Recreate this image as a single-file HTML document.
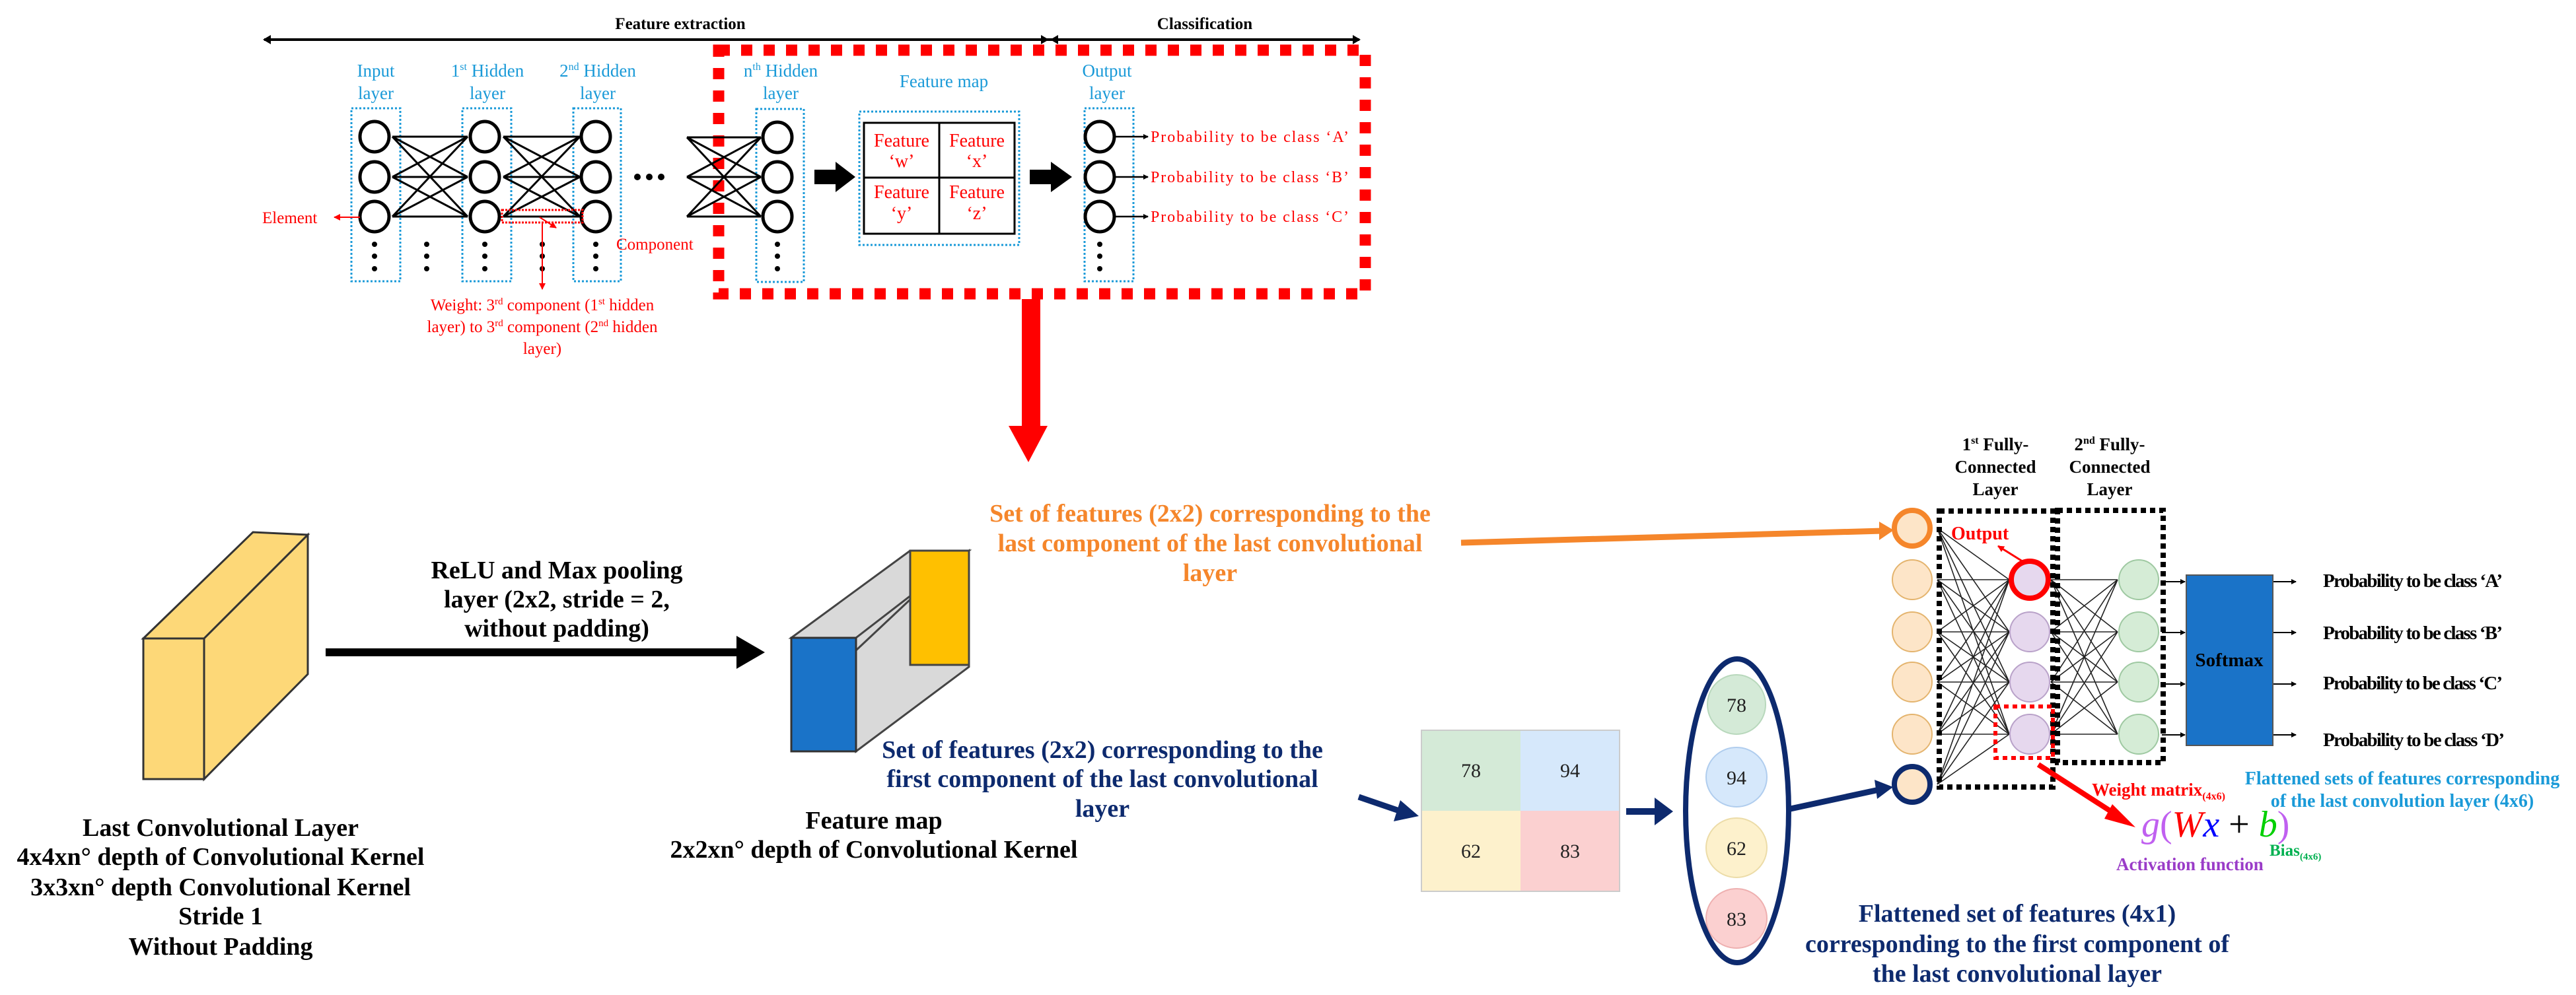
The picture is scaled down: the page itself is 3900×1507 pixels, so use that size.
<!DOCTYPE html>
<html><head><meta charset="utf-8"><style>
html,body{margin:0;padding:0;background:#fff;}
svg{display:block;}
text{font-family:"Liberation Serif",serif;}
</style></head><body>
<svg width="3900" height="1507" viewBox="0 0 3900 1507" xmlns="http://www.w3.org/2000/svg">
<defs>
<marker id="ab" markerWidth="8" markerHeight="8" refX="7" refY="4" orient="auto" markerUnits="userSpaceOnUse"><path d="M0,0 L8,4 L0,8z" fill="#000"/></marker>
<marker id="ar" markerWidth="10" markerHeight="10" refX="9" refY="5" orient="auto" markerUnits="userSpaceOnUse"><path d="M0,0 L10,5 L0,10z" fill="#f00"/></marker>
<marker id="abig" markerWidth="14" markerHeight="14" refX="12" refY="7" orient="auto" markerUnits="userSpaceOnUse"><path d="M0,0 L14,7 L0,14z" fill="#000"/></marker>
</defs>

<!-- top arrows -->
<line x1="400" y1="60" x2="2058" y2="60" stroke="#000" stroke-width="4"/>
<path d="M398,60 l12,-7 v14z M1588,60 l-12,-7 v14z M1590,60 l12,-7 v14z M2060,60 l-12,-7 v14z" fill="#000"/>
<text x="1030" y="44" font-size="25" font-weight="bold" text-anchor="middle">Feature extraction</text>
<text x="1824" y="44" font-size="25" font-weight="bold" text-anchor="middle">Classification</text>

<!-- red dashed box -->
<rect x="1088" y="76" width="979" height="369" fill="none" stroke="#f00" stroke-width="17" stroke-dasharray="17 17"/>
<!-- red down arrow -->
<rect x="1547" y="453" width="28" height="200" fill="#f00"/>
<path d="M1527,645 L1586,645 L1557,700z" fill="#f00"/>

<!-- layer labels -->
<g fill="#1a9ad8" font-size="27" text-anchor="middle">
<text x="569" y="116">Input</text><text x="569" y="150">layer</text>
<text x="738" y="116">1<tspan font-size="16" dy="-10">st</tspan><tspan dy="10"> Hidden</tspan></text><text x="738" y="150">layer</text>
<text x="905" y="116">2<tspan font-size="16" dy="-10">nd</tspan><tspan dy="10"> Hidden</tspan></text><text x="905" y="150">layer</text>
<text x="1182" y="116">n<tspan font-size="16" dy="-10">th</tspan><tspan dy="10"> Hidden</tspan></text><text x="1182" y="150">layer</text>
<text x="1429" y="132">Feature map</text>
<text x="1676" y="116">Output</text><text x="1676" y="150">layer</text>
</g>
<!-- blue dotted boxes -->
<g fill="none" stroke="#1a9ad8" stroke-width="3" stroke-dasharray="3 3">
<rect x="532" y="164" width="74" height="262"/>
<rect x="700" y="164" width="74" height="262"/>
<rect x="868" y="164" width="72" height="262"/>
<rect x="1145" y="165" width="72" height="262"/>
<rect x="1301" y="169" width="242" height="202"/>
<rect x="1642" y="164" width="74" height="262"/>
</g>

<!-- connections -->
<g stroke="#000" stroke-width="3" fill="none">
<path d="M594,207 L708,207 M594,207 L708,268 M594,207 L708,328 M594,268 L708,207 M594,268 L708,268 M594,268 L708,328 M594,328 L708,207 M594,328 L708,268 M594,328 L708,328"/>
<path d="M762,207 L878,207 M762,207 L878,268 M762,207 L878,328 M762,268 L878,207 M762,268 L878,268 M762,268 L878,328 M762,328 L878,207 M762,328 L878,268 M762,328 L878,328"/>
<path d="M1040,208 L1152,208 M1040,208 L1152,268 M1040,208 L1152,328 M1040,268 L1152,208 M1040,268 L1152,268 M1040,268 L1152,328 M1040,328 L1152,208 M1040,328 L1152,268 M1040,328 L1152,328"/>
</g>
<!-- circles -->
<g fill="#fff" stroke="#000" stroke-width="5">
<ellipse cx="567" cy="207" rx="22" ry="23"/><ellipse cx="567" cy="268" rx="22" ry="23"/><ellipse cx="567" cy="328" rx="22" ry="23"/>
<ellipse cx="734" cy="207" rx="22" ry="23"/><ellipse cx="734" cy="268" rx="22" ry="23"/><ellipse cx="734" cy="328" rx="22" ry="23"/>
<ellipse cx="902" cy="207" rx="22" ry="23"/><ellipse cx="902" cy="268" rx="22" ry="23"/><ellipse cx="902" cy="328" rx="22" ry="23"/>
<ellipse cx="1177" cy="208" rx="22" ry="23"/><ellipse cx="1177" cy="268" rx="22" ry="23"/><ellipse cx="1177" cy="328" rx="22" ry="23"/>
<ellipse cx="1665" cy="207" rx="22" ry="23"/><ellipse cx="1665" cy="268" rx="22" ry="23"/><ellipse cx="1665" cy="328" rx="22" ry="23"/>
</g>
<!-- dots -->
<g fill="#000">
<circle cx="567" cy="370" r="4"/><circle cx="567" cy="388" r="4"/><circle cx="567" cy="407" r="4"/>
<circle cx="646" cy="370" r="4"/><circle cx="646" cy="388" r="4"/><circle cx="646" cy="407" r="4"/>
<circle cx="734" cy="370" r="4"/><circle cx="734" cy="388" r="4"/><circle cx="734" cy="407" r="4"/>
<circle cx="821" cy="370" r="4"/><circle cx="821" cy="388" r="4"/><circle cx="821" cy="407" r="4"/>
<circle cx="902" cy="370" r="4"/><circle cx="902" cy="388" r="4"/><circle cx="902" cy="407" r="4"/>
<circle cx="1177" cy="370" r="4"/><circle cx="1177" cy="388" r="4"/><circle cx="1177" cy="407" r="4"/>
<circle cx="1665" cy="370" r="4"/><circle cx="1665" cy="388" r="4"/><circle cx="1665" cy="407" r="4"/>
<circle cx="965" cy="268" r="5"/><circle cx="983" cy="268" r="5"/><circle cx="1001" cy="268" r="5"/>
</g>
<!-- red highlight & weight -->
<rect x="760" y="318" width="122" height="19" fill="none" stroke="#f00" stroke-width="3" stroke-dasharray="3 2"/>
<line x1="821" y1="337" x2="821" y2="438" stroke="#f00" stroke-width="2" marker-end="url(#ar)"/>
<g fill="#f00" font-size="25" text-anchor="middle">
<text x="821" y="470">Weight: 3<tspan font-size="15" dy="-9">rd</tspan><tspan dy="9"> component (1</tspan><tspan font-size="15" dy="-9">st</tspan><tspan dy="9"> hidden</tspan></text>
<text x="821" y="503">layer) to 3<tspan font-size="15" dy="-9">rd</tspan><tspan dy="9"> component (2</tspan><tspan font-size="15" dy="-9">nd</tspan><tspan dy="9"> hidden</tspan></text>
<text x="821" y="536">layer)</text>
</g>
<line x1="545" y1="329" x2="506" y2="329" stroke="#f00" stroke-width="2" marker-end="url(#ar)"/>
<text x="397" y="338" fill="#f00" font-size="25">Element</text>
<path d="M817,329 L842,345" stroke="#f00" stroke-width="2" marker-end="url(#ar)"/>
<text x="821" y="378" fill="#f00" font-size="25" text-anchor="start" dx="112">Component</text>

<!-- feature map table -->
<rect x="1308" y="186" width="228" height="168" fill="#fff" stroke="#000" stroke-width="3"/>
<line x1="1422" y1="186" x2="1422" y2="354" stroke="#000" stroke-width="3"/>
<line x1="1308" y1="269" x2="1536" y2="269" stroke="#000" stroke-width="3"/>
<g fill="#f00" font-size="28" text-anchor="middle">
<text x="1365" y="222">Feature</text><text x="1365" y="253">‘w’</text>
<text x="1479" y="222">Feature</text><text x="1479" y="253">‘x’</text>
<text x="1365" y="300">Feature</text><text x="1365" y="332">‘y’</text>
<text x="1479" y="300">Feature</text><text x="1479" y="332">‘z’</text>
</g>
<path d="M1233,257 h32 v-12 l30,23 l-30,23 v-12 h-32z M1559,257 h32 v-12 l32,23 l-32,23 v-12 h-32z" fill="#000"/>
<!-- output arrows -->
<g stroke="#000" stroke-width="2.5">
<line x1="1687" y1="207" x2="1738" y2="207" marker-end="url(#ab)"/>
<line x1="1687" y1="268" x2="1738" y2="268" marker-end="url(#ab)"/>
<line x1="1687" y1="328" x2="1738" y2="328" marker-end="url(#ab)"/>
</g>
<g fill="#f00" font-size="24">
<text x="1742" y="215" textLength="300">Probability to be class ‘A’</text>
<text x="1742" y="276" textLength="300">Probability to be class ‘B’</text>
<text x="1742" y="336" textLength="300">Probability to be class ‘C’</text>
</g>

<!-- bottom: yellow block -->
<path d="M217,967 L383,806 L466,810 L309,967z" fill="#fdd878" stroke="#333" stroke-width="3"/>
<path d="M309,967 L466,810 L466,1021 L309,1180z" fill="#fdd878" stroke="#333" stroke-width="3"/>
<rect x="217" y="967" width="92" height="213" fill="#fdd878" stroke="#333" stroke-width="3"/>
<g font-size="38" font-weight="bold" text-anchor="middle">
<text x="334" y="1266">Last Convolutional Layer</text>
<text x="334" y="1310">4x4xn° depth of Convolutional Kernel</text>
<text x="334" y="1356">3x3xn° depth Convolutional Kernel</text>
<text x="334" y="1400">Stride 1</text>
<text x="334" y="1446">Without Padding</text>
<text x="843" y="876">ReLU and Max pooling</text>
<text x="843" y="920">layer (2x2, stride = 2,</text>
<text x="843" y="964">without padding)</text>
<text x="1323" y="1255">Feature map</text>
<text x="1323" y="1299">2x2xn° depth of Convolutional Kernel</text>
</g>
<path d="M493,982 H1115 V963 L1158,988 L1115,1013 V994 H493z" fill="#000"/>

<!-- feature map 3d -->
<path d="M1198,966 L1378,834 L1467,834 L1296,966z" fill="#d9d9d9" stroke="#444" stroke-width="3"/>
<path d="M1296,966 L1467,834 L1467,1010 L1296,1138z" fill="#d9d9d9" stroke="#444" stroke-width="3"/>
<rect x="1378" y="834" width="89" height="173" fill="#ffc000" stroke="#444" stroke-width="3"/>
<line x1="1378" y1="908" x2="1296" y2="985" stroke="#444" stroke-width="3"/>
<rect x="1198" y="966" width="98" height="172" fill="#1a73c8" stroke="#333" stroke-width="3"/>

<!-- orange text & line -->
<g fill="#f5862b" font-size="38" font-weight="bold" text-anchor="middle">
<text x="1832" y="790">Set of features (2x2) corresponding to the</text>
<text x="1832" y="835">last component of the last convolutional</text>
<text x="1832" y="880">layer</text>
</g>
<line x1="2212" y1="822" x2="2850" y2="804" stroke="#f5862b" stroke-width="9"/>
<path d="M2845,790 L2867,803 L2845,818z" fill="#f5862b"/>

<!-- navy text -->
<g fill="#0d2a6e" font-size="38" font-weight="bold" text-anchor="middle">
<text x="1669" y="1148">Set of features (2x2) corresponding to the</text>
<text x="1669" y="1192">first component of the last convolutional</text>
<text x="1669" y="1237">layer</text>
<text x="3054" y="1396">Flattened set of features (4x1)</text>
<text x="3054" y="1442">corresponding to the first component of</text>
<text x="3054" y="1487">the last convolutional layer</text>
</g>

<!-- grid -->
<rect x="2152" y="1106" width="150" height="122" fill="#d4ead7"/>
<rect x="2302" y="1106" width="150" height="122" fill="#d6e8fb"/>
<rect x="2152" y="1228" width="150" height="122" fill="#fdf1cc"/>
<rect x="2302" y="1228" width="150" height="122" fill="#fbd0d0"/>
<rect x="2152" y="1106" width="300" height="244" fill="none" stroke="#ccc" stroke-width="2"/>
<g font-size="30" text-anchor="middle" fill="#222">
<text x="2227" y="1177">78</text><text x="2377" y="1177">94</text>
<text x="2227" y="1299">62</text><text x="2377" y="1299">83</text>
<text x="2629" y="1078">78</text><text x="2629" y="1188">94</text>
<text x="2629" y="1295">62</text><text x="2629" y="1402">83</text>
</g>
<path d="M2057,1207 L2130,1232" stroke="#0d2a6e" stroke-width="9"/>
<path d="M2120,1212 L2148,1236 L2110,1244z" fill="#0d2a6e"/>
<path d="M2462,1224 H2505 V1208 L2533,1229 L2505,1250 V1234 H2462z" fill="#0d2a6e"/>

<!-- flattened ellipse -->
<ellipse cx="2629" cy="1284" rx="44" ry="45" fill="#d4ead7" stroke="#b8d8bc" stroke-width="2" transform="translate(0,-217)"/>
<ellipse cx="2629" cy="1177" rx="46" ry="45" fill="#d6e8fb" stroke="#b0cdee" stroke-width="2"/>
<ellipse cx="2629" cy="1284" rx="46" ry="45" fill="#fdf1cc" stroke="#ecdca8" stroke-width="2"/>
<ellipse cx="2629" cy="1391" rx="46" ry="45" fill="#fbd0d0" stroke="#eeb0b0" stroke-width="2"/>
<ellipse cx="2630" cy="1228" rx="78" ry="230" fill="none" stroke="#0d2a6e" stroke-width="8"/>
<g font-size="30" text-anchor="middle" fill="#222">
<text x="2629" y="1078">78</text><text x="2629" y="1188">94</text><text x="2629" y="1295">62</text><text x="2629" y="1402">83</text>
</g>
<line x1="2706" y1="1226" x2="2845" y2="1196" stroke="#0d2a6e" stroke-width="9"/>
<path d="M2838,1181 L2866,1192 L2842,1210z" fill="#0d2a6e"/>

<!-- FC lines -->
<g stroke="#222" stroke-width="1.6">
<path d="M2933,800 L3042,878 M2933,800 L3042,957 M2933,800 L3042,1033 M2933,800 L3042,1112
M2933,878 L3042,878 M2933,878 L3042,957 M2933,878 L3042,1033 M2933,878 L3042,1112
M2933,957 L3042,878 M2933,957 L3042,957 M2933,957 L3042,1033 M2933,957 L3042,1112
M2933,1033 L3042,878 M2933,1033 L3042,957 M2933,1033 L3042,1033 M2933,1033 L3042,1112
M2933,1112 L3042,878 M2933,1112 L3042,957 M2933,1112 L3042,1033 M2933,1112 L3042,1112
M2933,1188 L3042,878 M2933,1188 L3042,957 M2933,1188 L3042,1033 M2933,1188 L3042,1112"/>
<path d="M3105,878 L3206,878 M3105,878 L3206,957 M3105,878 L3206,1033 M3105,878 L3206,1112
M3105,957 L3206,878 M3105,957 L3206,957 M3105,957 L3206,1033 M3105,957 L3206,1112
M3105,1033 L3206,878 M3105,1033 L3206,957 M3105,1033 L3206,1033 M3105,1033 L3206,1112
M3105,1112 L3206,878 M3105,1112 L3206,957 M3105,1112 L3206,1033 M3105,1112 L3206,1112"/>
</g>
<!-- FC input circles -->
<g fill="#fde5c8" stroke="#e4b46e" stroke-width="2">
<circle cx="2895" cy="878" r="30"/><circle cx="2895" cy="957" r="30"/><circle cx="2895" cy="1033" r="30"/><circle cx="2895" cy="1112" r="30"/>
</g>
<circle cx="2895" cy="800" r="27" fill="#fde5c8" stroke="#f5862b" stroke-width="8"/>
<circle cx="2895" cy="1188" r="27" fill="#fde5c8" stroke="#0d2a6e" stroke-width="8"/>
<!-- FC1 nodes -->
<g fill="#e6d8ee" stroke="#b9a2c9" stroke-width="2">
<circle cx="3073" cy="957" r="30"/><circle cx="3073" cy="1033" r="30"/><circle cx="3073" cy="1112" r="30"/>
</g>
<circle cx="3073" cy="878" r="28" fill="#e6d8ee" stroke="#f00" stroke-width="8"/>
<!-- FC2 nodes -->
<g fill="#d5ecd6" stroke="#9fc9a2" stroke-width="2">
<circle cx="3238" cy="878" r="30"/><circle cx="3238" cy="957" r="30"/><circle cx="3238" cy="1033" r="30"/><circle cx="3238" cy="1112" r="30"/>
</g>
<!-- dotted boxes -->
<rect x="2936" y="774" width="172" height="418" fill="none" stroke="#000" stroke-width="8" stroke-dasharray="8 6"/>
<rect x="3115" y="773" width="160" height="382" fill="none" stroke="#000" stroke-width="8" stroke-dasharray="8 6"/>
<rect x="3021" y="1070" width="87" height="78" fill="none" stroke="#f00" stroke-width="6" stroke-dasharray="7 6"/>

<!-- labels FC -->
<g font-size="27" font-weight="bold" text-anchor="middle">
<text x="3021" y="682">1<tspan font-size="16" dy="-10">st</tspan><tspan dy="10"> Fully-</tspan></text>
<text x="3021" y="716">Connected</text><text x="3021" y="750">Layer</text>
<text x="3194" y="682">2<tspan font-size="16" dy="-10">nd</tspan><tspan dy="10"> Fully-</tspan></text>
<text x="3194" y="716">Connected</text><text x="3194" y="750">Layer</text>
</g>
<text x="2954" y="817" fill="#f00" font-size="28" font-weight="bold">Output</text>
<line x1="3065" y1="852" x2="3025" y2="827" stroke="#f00" stroke-width="3" marker-end="url(#ar)"/>

<!-- softmax -->
<g stroke="#000" stroke-width="2">
<line x1="3273" y1="881" x2="3308" y2="881" marker-end="url(#ab)"/>
<line x1="3273" y1="958" x2="3308" y2="958" marker-end="url(#ab)"/>
<line x1="3273" y1="1036" x2="3308" y2="1036" marker-end="url(#ab)"/>
<line x1="3273" y1="1113" x2="3308" y2="1113" marker-end="url(#ab)"/>
<line x1="3441" y1="881" x2="3476" y2="881" marker-end="url(#ab)"/>
<line x1="3441" y1="958" x2="3476" y2="958" marker-end="url(#ab)"/>
<line x1="3441" y1="1036" x2="3476" y2="1036" marker-end="url(#ab)"/>
<line x1="3441" y1="1113" x2="3476" y2="1113" marker-end="url(#ab)"/>
</g>
<rect x="3310" y="871" width="131" height="258" fill="#1a73c8" stroke="#555" stroke-width="2"/>
<text x="3375" y="1009" font-size="29" font-weight="bold" text-anchor="middle">Softmax</text>
<g font-size="29" font-weight="bold">
<text x="3517" y="889" textLength="272">Probability to be class ‘A’</text>
<text x="3517" y="968" textLength="272">Probability to be class ‘B’</text>
<text x="3517" y="1044" textLength="272">Probability to be class ‘C’</text>
<text x="3517" y="1130" textLength="275">Probability to be class ‘D’</text>
</g>
<g fill="#1a9ad8" font-size="28" font-weight="bold" text-anchor="middle">
<text x="3637" y="1188">Flattened sets of features corresponding</text>
<text x="3637" y="1222">of the last convolution layer (4x6)</text>
</g>
<!-- weight matrix arrow -->
<line x1="3086" y1="1158" x2="3210" y2="1238" stroke="#f00" stroke-width="8"/>
<path d="M3198,1218 L3233,1253 L3186,1240z" fill="#f00"/>
<text x="3167" y="1205" fill="#f00" font-size="27" font-weight="bold">Weight matrix<tspan font-size="16" dy="6">(4x6)</tspan></text>
<text x="3242" y="1267" font-size="56" font-family="'Liberation Sans',sans-serif"><tspan fill="#c060f0" font-style="italic">g</tspan><tspan fill="#c060f0">(</tspan><tspan fill="#f00" font-style="italic">W</tspan><tspan fill="#00f" font-style="italic">x</tspan><tspan fill="#000"> + </tspan><tspan fill="#00d000" font-style="italic">b</tspan><tspan fill="#c060f0">)</tspan></text>
<text x="3436" y="1296" fill="#00b050" font-size="25" font-weight="bold">Bias<tspan font-size="15" dy="6">(4x6)</tspan></text>
<text x="3204" y="1318" fill="#9a3cc8" font-size="27" font-weight="bold">Activation function</text>
</svg>
</body></html>
